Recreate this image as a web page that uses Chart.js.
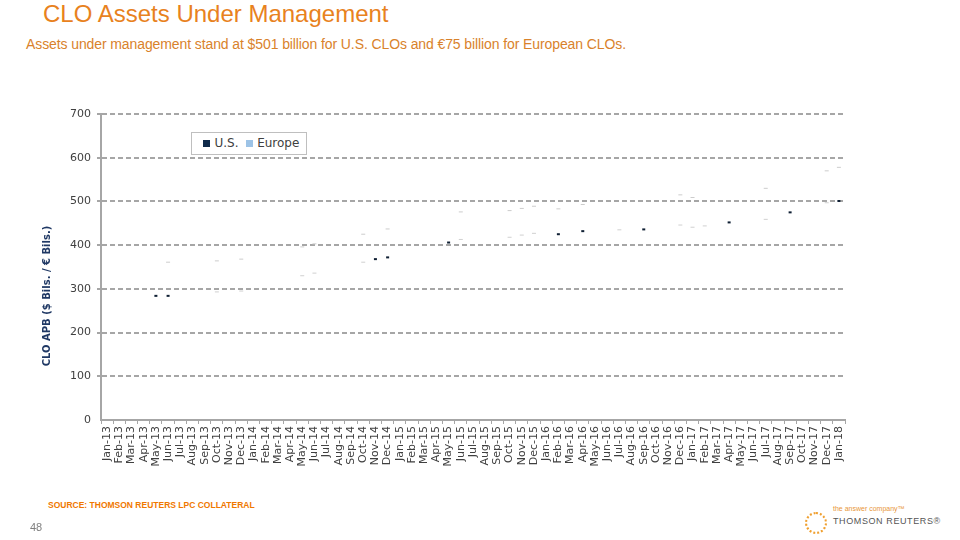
<!DOCTYPE html>
<html>
<head>
<meta charset="utf-8">
<script src="https://cdn.jsdelivr.net/npm/chart.js@4/dist/chart.umd.min.js"></script>
<style>
  body { margin: 0; width: 960px; height: 540px; background: #fff; position: relative; overflow: hidden; font-family: "Liberation Sans", Arial, sans-serif; }
  #title { position: absolute; left: 43px; top: 0px; font-size: 24px; color: #e8821e; }
  #subtitle { position: absolute; left: 26px; top: 36px; font-size: 14px; color: #d9822b; letter-spacing: -0.1px; }
  #chartBox { position: absolute; left: 30px; top: 100px; width: 830px; height: 380px; }
  #yTitle { position: absolute; left: 46px; top: 296px; transform: translate(-50%, -50%) rotate(-90deg); white-space: nowrap;
            font-family: "DejaVu Sans", sans-serif; font-weight: bold; font-size: 10px; color: #1f3864; }
  #legend { position: absolute; left: 191px; top: 132px; width: 114px; height: 21px; border: 1px solid #bfbfbf; background: #fff;
            font-family: "DejaVu Sans", sans-serif; font-size: 12px; color: #404040; line-height: 21px; }
  #legend span.sw { display: inline-block; width: 7px; height: 7px; margin: 0 4px 1px 0; vertical-align: middle; }
  #source { position: absolute; left: 48px; top: 500px; font-size: 8.5px; font-weight: bold; color: #f07800; }
  #page { position: absolute; left: 30px; top: 521px; font-size: 11px; color: #7f7f7f; }
  #logo { position: absolute; left: 805px; top: 512px; width: 18px; height: 18px; border: 2px dotted #f0a030; border-radius: 50%; }
  #tagline { position: absolute; left: 833px; top: 505px; font-size: 7px; color: #e8963a; }
  #brand { position: absolute; left: 833px; top: 516px; font-size: 9px; color: #555; letter-spacing: 0.6px; }
</style>
</head>
<body>
<div id="title">CLO Assets Under Management</div>
<div id="subtitle">Assets under management stand at $501 billion for U.S. CLOs and €75 billion for European CLOs.</div>
<div id="chartBox"><canvas id="cloChart"></canvas></div>
<div id="yTitle">CLO APB ($ Bils. / € Bils.)</div>
<div id="legend">&nbsp;&nbsp;&nbsp;<span class="sw" style="background:#0f2a4a"></span>U.S. &nbsp;<span class="sw" style="background:#9dc3e6"></span>Europe</div>
<div id="source">SOURCE: THOMSON REUTERS LPC COLLATERAL</div>
<div id="page">48</div>
<div id="logo"></div>
<div id="tagline">the answer company™</div>
<div id="brand">THOMSON REUTERS®</div>

<script>
const months = [
  "Jan-13","Feb-13","Mar-13","Apr-13","May-13","Jun-13","Jul-13","Aug-13","Sep-13","Oct-13","Nov-13","Dec-13",
  "Jan-14","Feb-14","Mar-14","Apr-14","May-14","Jun-14","Jul-14","Aug-14","Sep-14","Oct-14","Nov-14","Dec-14",
  "Jan-15","Feb-15","Mar-15","Apr-15","May-15","Jun-15","Jul-15","Aug-15","Sep-15","Oct-15","Nov-15","Dec-15",
  "Jan-16","Feb-16","Mar-16","Apr-16","May-16","Jun-16","Jul-16","Aug-16","Sep-16","Oct-16","Nov-16","Dec-16",
  "Jan-17","Feb-17","Mar-17","Apr-17","May-17","Jun-17","Jul-17","Aug-17","Sep-17","Oct-17","Nov-17","Dec-17",
  "Jan-18"
];

// U.S. CLO AUM ($ bn), only months that show a mark
const usValues = [
  null, null, null, null, 284, 284, null, null, null, 293, null, 295,
  null, null, null, null, 330, 336, null, null, null, 361, 368, 372,
  null, null, null, null, 406, 413, null, null, null, 418, 423, 427,
  null, 425, null, 432, null, null, 435, null, 436, null, null, 446,
  441, 444, null, 452, null, null, 459, null, 475, null, null, 497,
  501
];

// Europe CLO AUM (€ bn), stacked on top of U.S.
const europeValues = [
  null, null, null, null, null, 77, null, null, null, 71, null, 73,
  null, null, null, null, 66, 67, null, null, null, 64, null, 65,
  null, null, null, null, null, 63, null, null, null, 61, 61, 62,
  null, 58, null, 61, null, null, null, null, null, null, null, 69,
  68, null, null, null, null, null, 71, null, null, null, null, 73,
  77
];

const yTicks = [0, 100, 200, 300, 400, 500, 600, 700];

// months where the U.S. mark shows dark
const US_DARK = new Set(["May-13","Jun-13","Nov-14","Dec-14","May-15","Feb-16","Apr-16","Sep-16","Apr-17","Sep-17","Jan-18"]);

const isDark = ctx => US_DARK.has(months[ctx.dataIndex]);

new Chart(document.getElementById('cloChart'), {
  type: 'line',
  data: {
    labels: months,
    datasets: [
      {
        label: 'U.S.',
        data: usValues,
        showLine: false,
        pointStyle: 'line',
        pointRadius: ctx => isDark(ctx) ? 1.5 : 2,
        pointBorderColor: ctx => isDark(ctx) ? '#0f1f33' : '#d0d0d0',
        pointBorderWidth: ctx => isDark(ctx) ? 2 : 1,
        backgroundColor: '#0f2a4a'
      },
      {
        label: 'Europe',
        data: europeValues,
        showLine: false,
        pointStyle: 'line',
        pointRadius: 2,
        pointBorderColor: '#cccccc',
        pointBorderWidth: 1,
        backgroundColor: '#9dc3e6'
      }
    ]
  },
  options: {
    responsive: true,
    maintainAspectRatio: false,
    animation: false,
    layout: { padding: { top: 14, right: 15, left: 0, bottom: 0 } },
    plugins: {
      legend: { display: false },
      tooltip: { enabled: false }
    },
    scales: {
      x: {
        offset: true,
        afterFit: scale => { scale.height = 60; },
        grid: {
          offset: true,
          drawOnChartArea: false,
          tickLength: 4,
          color: '#a6a6a6',
          lineWidth: 1
        },
        border: { color: '#a6a6a6', width: 2 },
        ticks: {
          autoSkip: false,
          minRotation: 90,
          maxRotation: 90,
          padding: 2,
          color: '#404040',
          font: { family: 'DejaVu Sans', size: 11 }
        }
      },
      y: {
        stacked: true,
        min: 0,
        max: 700,
        afterFit: scale => { scale.width = 71; },
        afterBuildTicks: scale => { scale.ticks = yTicks.map(v => ({ value: v })); },
        grid: {
          color: ctx => ctx.tick && ctx.tick.value === 0 ? 'rgba(0,0,0,0)' : '#a6a6a6',
          lineWidth: 2,
          tickLength: 4,
          tickBorderDash: [5, 3]
        },
        border: { color: '#a6a6a6', width: 2, dash: [5, 3] },
        ticks: {
          padding: 6,
          color: '#404040',
          font: { family: 'DejaVu Sans', size: 11 }
        }
      }
    }
  }
});
</script>
</body>
</html>
